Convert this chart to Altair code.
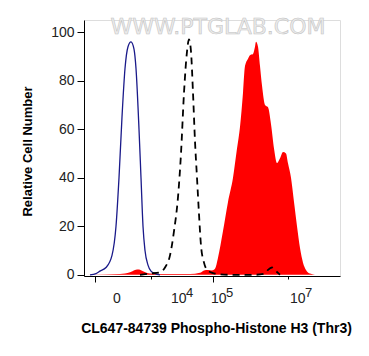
import altair as alt
import pandas as pd
import numpy as np

# Channel positions (plot units, 0..256 across the axis)
blue_x = [6, 12, 16, 22, 28, 32, 35, 38, 41, 44, 47, 50, 52, 55, 57, 59, 61, 64, 67, 71, 76]
blue_y = [0, 0.5, 1.5, 3, 8, 20, 40, 65, 85, 94, 96, 93, 85, 60, 40, 20, 10, 4, 1.5, 0.5, 0]

dash_x = [56, 66, 76, 81, 86, 90, 94, 97, 100, 103, 105, 107, 109, 111, 113, 115, 117, 120, 123, 127, 131, 146, 171, 181, 184, 188, 192, 196]
dash_y = [0, 0.5, 1, 3, 8, 18, 32, 50, 75, 92, 97, 92, 75, 55, 40, 25, 12, 5, 2, 1, 0.5, 0, 0, 0.5, 2, 3, 1.5, 0]

red_x = [2, 36, 46, 51, 55, 59, 66, 76, 106, 116, 120, 124, 128, 131, 134, 139, 144, 149, 153, 156, 159, 161, 164, 166, 169, 171, 172, 174, 176, 178, 181, 184, 187, 190, 193, 196, 199, 202, 204, 207, 210, 213, 216, 219, 222, 226, 231]
red_y = [0, 0.3, 1, 2, 2.2, 1.5, 0.5, 0.3, 0.3, 0.8, 1.8, 2, 1.8, 2.5, 7, 18, 30, 40, 52, 61, 75, 86, 89, 90.5, 91, 94, 96, 94, 86, 78, 70, 69, 62, 52, 46, 48, 50.6, 50, 46, 40, 30, 20, 11, 5, 2, 0.5, 0]

major_ticks = [11, 46, 89, 129, 169, 208, 248]
zero_minor = [15, 18, 21, 24, 26.5, 28.5, 30, 31.5, 33, 35, 38, 41, 43.5]
label_pos = [89, 129, 208]
label_exp = ["4", "5", "7"]
zero_pos = [33]

y_ticks = list(range(0, 101, 10))

minor = list(zero_minor)
for a, b in zip(major_ticks[1:-1], major_ticks[2:]):
    for k in range(2, 10):
        minor.append(round(a + (b - a) * np.log10(k), 2))
all_ticks = sorted(major_ticks + minor)

red = pd.DataFrame({"x": red_x, "y": red_y})
blue = pd.DataFrame({"x": blue_x, "y": blue_y})
dash = pd.DataFrame({"x": dash_x, "y": dash_y})
lab = pd.DataFrame({"x": label_pos, "e": label_exp, "t": ["10"] * len(label_pos)})
zlab = pd.DataFrame({"x": zero_pos, "t": ["0"]})

major_str = ",".join(str(v) for v in major_ticks)

xscale = alt.Scale(domain=[0, 256], nice=False, zero=False)
yscale = alt.Scale(domain=[-0.5, 105], nice=False, zero=False)

xaxis = alt.Axis(
    values=all_ticks, labels=False, grid=False, domainColor="black",
    tickColor="black", tickWidth=1,
    tickSize={"condition": {"test": f"indexof([{major_str}], datum.value) >= 0", "value": 6}, "value": 3},
    title="CL647-84739 Phospho-Histone H3 (Thr3)",
    titleFont="Liberation Sans", titleFontSize=14, titleFontWeight="bold", titleColor="black",
    titleX=132, titleY=56, titleAnchor="middle", titleAlign="center", titleBaseline="alphabetic",
)
yaxis = alt.Axis(
    values=y_ticks, grid=False, domainColor="black", tickColor="black",
    tickSize={"condition": {"test": "datum.value % 20 == 0", "value": 7}, "value": 3},
    labelExpr="datum.value % 20 == 0 ? datum.label : ''",
    labelFont="Liberation Sans", labelFontSize=14, labelColor="#222222", labelPadding=3,
    title="Relative Cell Number",
    titleFont="Liberation Sans", titleFontSize=13, titleFontWeight="bold", titleColor="black",
    titleX=-57, titleY=131, titleAngle=-90, titleAlign="center", titleBaseline="middle",
)

base_x = alt.X("x:Q", scale=xscale, axis=xaxis)
base_y = alt.Y("y:Q", scale=yscale, axis=yaxis)

red_area = alt.Chart(red).mark_area(color="#ff0000", opacity=1, interpolate="monotone").encode(x=base_x, y=base_y)
blue_line = alt.Chart(blue).mark_line(color="#1a1a8a", strokeWidth=1.3, interpolate="monotone").encode(
    x=alt.X("x:Q", scale=xscale), y=alt.Y("y:Q", scale=yscale))
dash_line = alt.Chart(dash).mark_line(color="black", strokeWidth=1.8, strokeDash=[7, 5], interpolate="monotone").encode(
    x=alt.X("x:Q", scale=xscale), y=alt.Y("y:Q", scale=yscale))

ten = alt.Chart(lab).mark_text(font="Liberation Sans", fontSize=14, color="#222222", align="left",
                               baseline="alphabetic", dx=-2).encode(
    x=alt.X("x:Q", scale=xscale), y=alt.value(283), text="t:N")
sup = alt.Chart(lab).mark_text(font="Liberation Sans", fontSize=13, color="#222222", align="left",
                               baseline="alphabetic", dx=13).encode(
    x=alt.X("x:Q", scale=xscale), y=alt.value(277), text="e:N")
zero = alt.Chart(zlab).mark_text(font="Liberation Sans", fontSize=14, color="#222222", align="center",
                                 baseline="alphabetic").encode(
    x=alt.X("x:Q", scale=xscale), y=alt.value(283), text="t:N")

wm = alt.Chart(pd.DataFrame({"t": ["WWW.PTGLAB.COM"]})).mark_text(
    font="DejaVu Sans", fontSize=22, fill="#ececec", stroke="#c4c4c4", strokeWidth=0.6,
    align="center", baseline="alphabetic").encode(x=alt.value(134), y=alt.value(14), text="t:N")

chart = alt.layer(red_area, blue_line, dash_line, wm, ten, sup, zero).properties(
    width=256, height=256,
    autosize=alt.AutoSizeParams(type="none"),
    padding={"left": 84, "top": 20, "right": 29, "bottom": 80},
).configure_view(stroke="black", strokeWidth=1.2).configure(background="white")

chart.save("out.html", embed_options={"renderer": "svg", "actions": False})
